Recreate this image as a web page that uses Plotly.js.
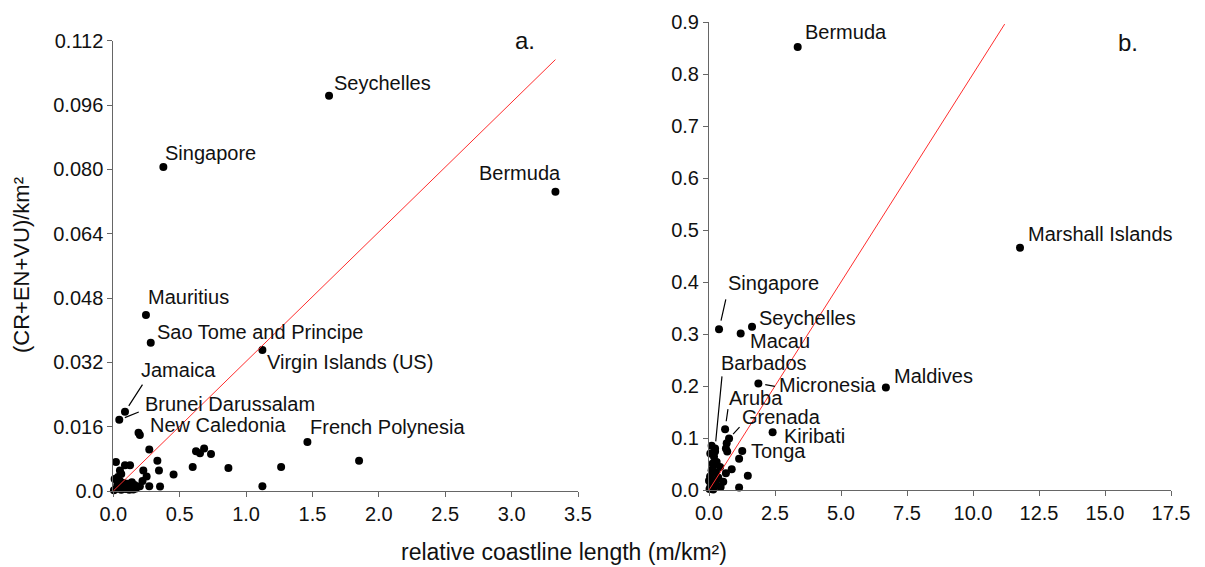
<!DOCTYPE html>
<html>
<head>
<meta charset="utf-8">
<script src="https://cdn.plot.ly/plotly-3.0.1.min.js"></script>
<style>html,body{margin:0;padding:0;background:#fff;}#chart{width:1205px;height:567px;}</style>
</head>
<body>
<div id="chart"></div>
<script>
// ---------- DATA ----------
// Panel a: labelled countries
const aNames = ['Seychelles','Singapore','Bermuda','Mauritius','Sao Tome and Principe','Virgin Islands (US)','Jamaica','Brunei Darussalam','New Caledonia','French Polynesia'];
const aLabX  = [1.625, 0.377, 3.33, 0.246, 0.282, 1.123, 0.088, 0.045, 0.200, 1.462];
const aLabY  = [0.0983, 0.0806, 0.0744, 0.0438, 0.0369, 0.0351, 0.0197, 0.0177, 0.0139, 0.0122];
// Panel a: other countries
const aOthX = [0.19, 0.271, 0.332, 0.344, 0.454, 0.598, 0.623, 0.653, 0.684, 0.736, 0.867, 1.123, 1.264, 1.851,
  0.02, 0.088, 0.126, 0.05, 0.226, 0.251, 0.271, 0.352,
  0.02, 0.03, 0.04, 0.05, 0.06, 0.07, 0.08, 0.09, 0.10, 0.11, 0.12, 0.13, 0.15, 0.17, 0.01, 0.035, 0.06, 0.14, 0.20, 0.22, 0.16, 0.005];
const aOthY = [0.0145, 0.0103, 0.0075, 0.0051, 0.0041, 0.0060, 0.0099, 0.0094, 0.0106, 0.0092, 0.0057, 0.0012, 0.0060, 0.0075,
  0.0072, 0.0064, 0.0064, 0.0051, 0.0051, 0.0036, 0.0012, 0.0011,
  0.0005, 0.0015, 0.0008, 0.0025, 0.0003, 0.0012, 0.0020, 0.0005, 0.0010, 0.0018, 0.0003, 0.0009, 0.0004, 0.0006, 0.0030, 0.0035, 0.0042, 0.0022, 0.0012, 0.0025, 0.0015, 0.0002];
const aFitX = [0, 3.33];
const aFitY = [0, 0.1073];
const aYTicks = [0, 0.016, 0.032, 0.048, 0.064, 0.080, 0.096, 0.112];
const aYTickText = ['0.0', '0.016', '0.032', '0.048', '0.064', '0.080', '0.096', '0.112'];
const aXTicks = [0, 0.5, 1.0, 1.5, 2.0, 2.5, 3.0, 3.5];

// Panel b: labelled countries
const bNames = ['Bermuda','Marshall Islands','Maldives','Singapore','Seychelles','Macau','Micronesia','Barbados','Aruba','Grenada','Kiribati','Tonga'];
const bLabX  = [3.36, 11.78, 6.70, 0.38, 1.63, 1.20, 1.87, 0.23, 0.61, 0.76, 2.41, 1.26];
const bLabY  = [0.852, 0.466, 0.197, 0.309, 0.314, 0.301, 0.205, 0.080, 0.117, 0.099, 0.111, 0.075];
// Panel b: other countries
const bOthX = [0.67, 0.64, 0.69, 1.14, 0.86, 1.47, 1.14,
  0.23, 0.19, 0.29, 0.16, 0.42, 0.10, 0.27, 0.04, 0.35, 0.00, 0.16, 0.06, 0.29, 0.44, 0.02, 0.16, 0.54, 0.64, 0.14, 0.10, 0.05, 0.30, 0.08];
const bOthY = [0.090, 0.080, 0.074, 0.060, 0.040, 0.0275, 0.005,
  0.074, 0.064, 0.054, 0.046, 0.044, 0.038, 0.033, 0.026, 0.024, 0.018, 0.016, 0.008, 0.008, 0.006, 0.002, 0.001, 0.016, 0.032, 0.051, 0.085, 0.070, 0.020, 0.012];
const bFitX = [0, 11.2];
const bFitY = [0, 0.896];
const bYTicks = [0, 0.1, 0.2, 0.3, 0.4, 0.5, 0.6, 0.7, 0.8, 0.9];
const bXTicks = [0, 2.5, 5, 7.5, 10, 12.5, 15, 17.5];

// ---------- STYLE ----------
const FONT = 'Liberation Sans, Arial, sans-serif';
const TXT = '#111';
// label placement: [xanchor, xshift, yshift, leader:[ax, ay, standoff] or null]
const aLabelStyle = {
  'Seychelles': ['left', 3, 13, null],
  'Singapore': ['left', 0, 14, null],
  'Bermuda': ['right', 8, 19, null],
  'Mauritius': ['left', 0, 18, null],
  'Sao Tome and Principe': ['left', 4, 11, null],
  'Virgin Islands (US)': ['left', 3, -12, null],
  'Jamaica': ['left', 14, 42, [18, -28, 7]],
  'Brunei Darussalam': ['left', 24, 16, [20, -8, 6]],
  'New Caledonia': ['left', 8, 10, null],
  'French Polynesia': ['left', 1, 15, null]
};
const bLabelStyle = {
  'Bermuda': ['left', 5, 15, null],
  'Marshall Islands': ['left', 6, 14, null],
  'Maldives': ['left', 6, 12, null],
  'Singapore': ['left', 7, 46, [7, -31, 9]],
  'Seychelles': ['left', 5, 9, null],
  'Macau': ['left', 7, -8, null],
  'Micronesia': ['left', 19, -2, [17, 3, 7]],
  'Barbados': ['left', 4, 85, [7, -73, 7]],
  'Aruba': ['left', 2, 31, [3, -21, 8]],
  'Grenada': ['left', 11, 22, [11, -12, 6]],
  'Kiribati': ['left', 9, -4, null],
  'Tonga': ['left', 7, 0, null]
};

function labelAnns(names, xs, ys, styles, xr, yr) {
  const out = [];
  names.forEach((n, i) => {
    const s = styles[n];
    out.push({xref: xr, yref: yr, x: xs[i], y: ys[i], text: n, showarrow: false,
      xanchor: s[0], yanchor: 'middle', xshift: s[1], yshift: s[2],
      font: {family: FONT, size: 20, color: TXT}});
    if (s[3]) {
      out.push({xref: xr, yref: yr, x: xs[i], y: ys[i], text: ' ', showarrow: true,
        arrowhead: 0, arrowwidth: 1.2, arrowcolor: '#000', ax: s[3][0], ay: s[3][1],
        standoff: s[3][2], font: {size: 1}, borderpad: 0});
    }
  });
  return out;
}

const markerStyle = {color: '#000', size: 8};
const traces = [
  {x: aOthX, y: aOthY, type: 'scatter', mode: 'markers', marker: markerStyle, cliponaxis: false, xaxis: 'x', yaxis: 'y', hoverinfo: 'skip'},
  {x: aLabX, y: aLabY, text: aNames, type: 'scatter', mode: 'markers', marker: markerStyle, cliponaxis: false, xaxis: 'x', yaxis: 'y'},
  {x: aFitX, y: aFitY, type: 'scatter', mode: 'lines', line: {color: 'rgb(255,45,45)', width: 1}, xaxis: 'x', yaxis: 'y', hoverinfo: 'skip'},
  {x: bOthX, y: bOthY, type: 'scatter', mode: 'markers', marker: markerStyle, cliponaxis: false, xaxis: 'x2', yaxis: 'y2', hoverinfo: 'skip'},
  {x: bLabX, y: bLabY, text: bNames, type: 'scatter', mode: 'markers', marker: markerStyle, cliponaxis: false, xaxis: 'x2', yaxis: 'y2'},
  {x: bFitX, y: bFitY, type: 'scatter', mode: 'lines', line: {color: 'rgb(255,45,45)', width: 1}, xaxis: 'x2', yaxis: 'y2', hoverinfo: 'skip'}
];

const W = 1205, H = 567;
const axBase = {showline: true, linecolor: '#666', linewidth: 1, ticks: 'outside', ticklen: 5, tickcolor: '#666',
  tickwidth: 1, showgrid: false, zeroline: false, mirror: false, fixedrange: true,
  tickfont: {family: FONT, size: 20, color: TXT}};

const layout = {
  width: W, height: H,
  margin: {l: 0, r: 0, t: 0, b: 0},
  paper_bgcolor: '#fff', plot_bgcolor: '#fff',
  showlegend: false,
  font: {family: FONT, color: TXT},
  xaxis: Object.assign({}, axBase, {domain: [113.3 / W, 578 / W], range: [0, 3.5], tickvals: aXTicks, tickformat: '.1f', anchor: 'y'}),
  yaxis: Object.assign({}, axBase, {domain: [(H - 491) / H, (H - 40.7) / H], range: [0, 0.112], tickvals: aYTicks, ticktext: aYTickText, anchor: 'x'}),
  xaxis2: Object.assign({}, axBase, {domain: [709 / W, 1171 / W], range: [0, 17.5], tickvals: bXTicks, tickformat: '.1f', anchor: 'y2'}),
  yaxis2: Object.assign({}, axBase, {domain: [(H - 490) / H, (H - 22) / H], range: [0, 0.9], tickvals: bYTicks, tickformat: '.1f', anchor: 'x2'}),
  annotations: [
    {xref: 'paper', yref: 'paper', x: 564 / W, y: 1 - 552 / H, text: 'relative coastline length (m/km²)', showarrow: false,
      xanchor: 'center', yanchor: 'middle', font: {family: FONT, size: 23, color: TXT}},
    {xref: 'paper', yref: 'paper', x: 22 / W, y: 1 - 265 / H, text: '(CR+EN+VU)/km²', showarrow: false, textangle: -90,
      xanchor: 'center', yanchor: 'middle', font: {family: FONT, size: 22, color: TXT}},
    {xref: 'paper', yref: 'paper', x: 525 / W, y: 1 - 40 / H, text: 'a.', showarrow: false,
      xanchor: 'center', yanchor: 'middle', font: {family: FONT, size: 24, color: TXT}},
    {xref: 'paper', yref: 'paper', x: 1128 / W, y: 1 - 42 / H, text: 'b.', showarrow: false,
      xanchor: 'center', yanchor: 'middle', font: {family: FONT, size: 24, color: TXT}}
  ].concat(labelAnns(aNames, aLabX, aLabY, aLabelStyle, 'x', 'y'))
   .concat(labelAnns(bNames, bLabX, bLabY, bLabelStyle, 'x2', 'y2'))
};

Plotly.newPlot('chart', traces, layout, {displayModeBar: false, staticPlot: true});
</script>
</body>
</html>
